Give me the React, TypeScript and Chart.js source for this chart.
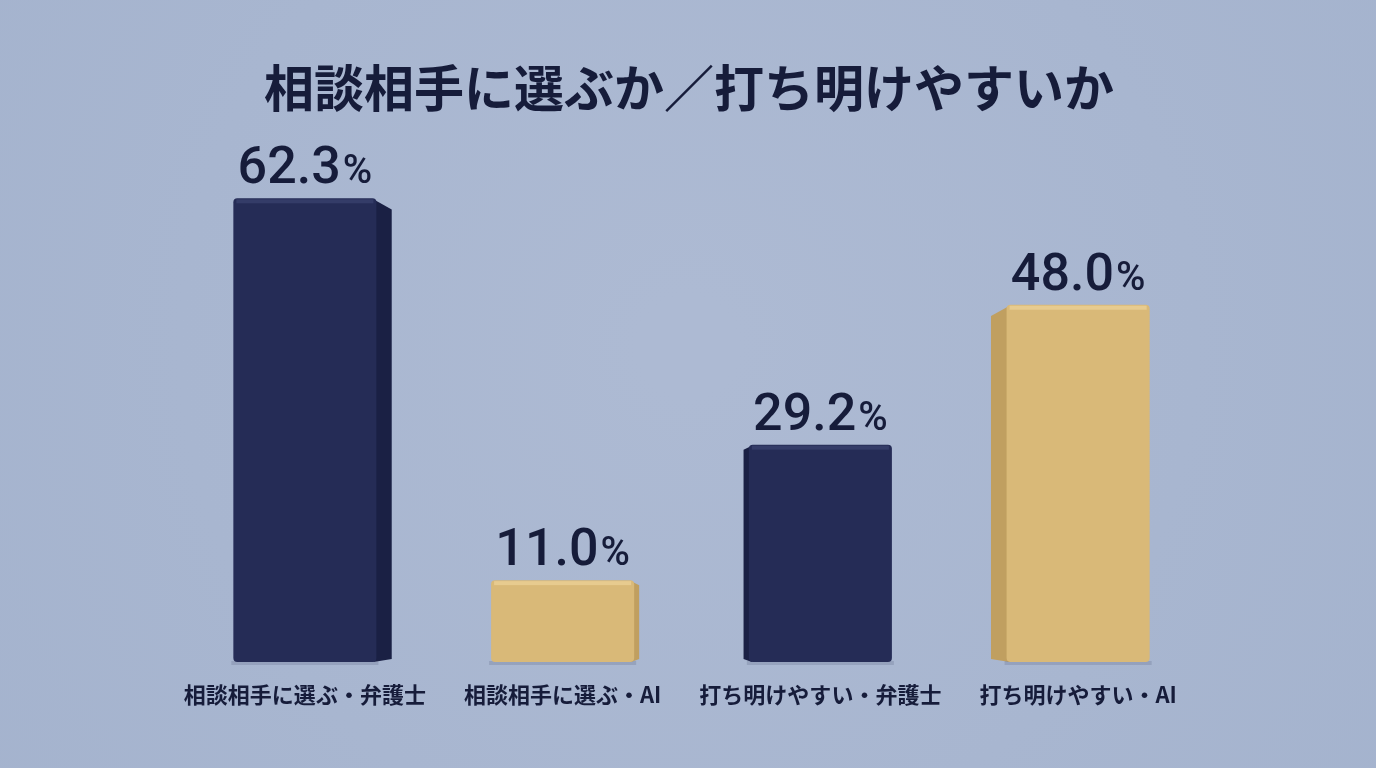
import React, { useEffect, useRef } from "react";
import { Chart, registerables } from "chart.js";

Chart.register(...registerables);

const titleText = "相談相手に選ぶか／打ち明けやすいか";
const categories = [
  "相談相手に選ぶ・弁護士",
  "相談相手に選ぶ・AI",
  "打ち明けやすい・弁護士",
  "打ち明けやすい・AI",
];
const values = [62.3, 11.0, 29.2, 48.0];
const valueLabels = ["62.3", "11.0", "29.2", "48.0"];
const unit = "%";

const NAVY = "#252c56";
const NAVY_SIDE = "#1a2044";
const NAVY_TOP = "#343c68";
const GOLD = "#d9b978";
const GOLD_SIDE = "#c09f60";
const GOLD_TOP = "#e7cb8f";
const TEXT = "#161c3a";

const barColors = [NAVY, GOLD, NAVY, GOLD];
const sideColors = [NAVY_SIDE, GOLD_SIDE, NAVY_SIDE, GOLD_SIDE];
const topColors = [NAVY_TOP, GOLD_TOP, NAVY_TOP, GOLD_TOP];

const decorPlugin = {
  id: "decor",
  beforeDraw(chart: any) {
    const { ctx, width, height } = chart;
    ctx.save();
    const g = ctx.createRadialGradient(width / 2, height * 0.45, 50, width / 2, height * 0.45, width * 0.7);
    g.addColorStop(0, "#adbad3");
    g.addColorStop(1, "#a3b2cd");
    ctx.fillStyle = g;
    ctx.fillRect(0, 0, width, height);
    ctx.restore();
  },
  beforeDatasetsDraw(chart: any) {
    const { ctx, width } = chart;
    const meta = chart.getDatasetMeta(0);
    ctx.save();
    meta.data.forEach((bar: any, i: number) => {
      const w = bar.width;
      const left = bar.x - w / 2;
      const right = bar.x + w / 2;
      const top = bar.y;
      const base = bar.base;
      const s = (width / 2 - bar.x) * 0.04;
      const edge = s > 0 ? right : left;
      ctx.fillStyle = sideColors[i];
      ctx.beginPath();
      ctx.moveTo(edge - Math.sign(s) * 3, top + 1);
      ctx.lineTo(edge + s, top + Math.abs(s) * 0.6 + 2);
      ctx.lineTo(edge + s, base - 3);
      ctx.lineTo(edge - Math.sign(s) * 3, base);
      ctx.closePath();
      ctx.fill();
      ctx.fillStyle = "rgba(40,50,80,0.15)";
      ctx.fillRect(left - 2, base - 1, w + 4, 4);
    });
    ctx.restore();
  },
  afterDatasetsDraw(chart: any) {
    const { ctx, width } = chart;
    const meta = chart.getDatasetMeta(0);
    ctx.save();
    meta.data.forEach((bar: any, i: number) => {
      const w = bar.width;
      const left = bar.x - w / 2;
      ctx.fillStyle = topColors[i];
      ctx.fillRect(left + 3, bar.y + 1, w - 6, 4);

      const numFont = "500 52px Roboto, 'Noto Sans', sans-serif";
      const pctFont = "500 40px Roboto, 'Noto Sans', sans-serif";
      ctx.font = numFont;
      const nw = ctx.measureText(valueLabels[i]).width;
      ctx.font = pctFont;
      const pw = ctx.measureText(unit).width;
      const total = nw + 2 + pw;
      const sx = bar.x - total / 2;
      const by = bar.y - 15;
      ctx.fillStyle = TEXT;
      ctx.textBaseline = "alphabetic";
      ctx.textAlign = "left";
      ctx.font = numFont;
      ctx.fillText(valueLabels[i], sx, by);
      ctx.font = pctFont;
      ctx.fillText(unit, sx + nw + 2, by);

      ctx.font = "bold 22px 'Noto Sans CJK JP', sans-serif";
      ctx.textAlign = "center";
      ctx.textBaseline = "middle";
      ctx.fillText(categories[i], bar.x, bar.base + 33);
    });
    ctx.font = "bold 50px 'Noto Sans CJK JP', sans-serif";
    ctx.textAlign = "center";
    ctx.textBaseline = "middle";
    ctx.fillStyle = TEXT;
    ctx.fillText(titleText, width / 2 + 1, 88);
    ctx.restore();
  },
};

export default function App() {
  const ref = useRef<HTMLCanvasElement>(null);
  useEffect(() => {
    document.body.style.margin = "0";
    const chart = new Chart(ref.current as HTMLCanvasElement, {
      type: "bar",
      data: {
        labels: categories,
        datasets: [
          {
            data: values,
            backgroundColor: barColors,
            borderRadius: 4,
            borderSkipped: false,
            barPercentage: 0.555,
            categoryPercentage: 1,
          },
        ],
      },
      options: {
        animation: false,
        responsive: false,
        maintainAspectRatio: false,
        layout: { padding: { top: 141, bottom: 106, left: 176, right: 169 } },
        plugins: { legend: { display: false }, tooltip: { enabled: false }, title: { display: false } },
        scales: {
          x: { display: false },
          y: { display: false, min: 0, max: 70 },
        },
      },
      plugins: [decorPlugin],
    });
    return () => chart.destroy();
  }, []);
  return (
    <div style={{ width: 1376, height: 768 }}>
      <canvas ref={ref} width={1376} height={768} style={{ display: "block" }} />
    </div>
  );
}
